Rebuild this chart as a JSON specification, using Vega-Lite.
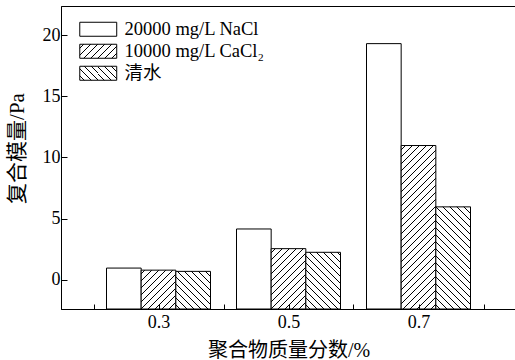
{
  "$schema": "https://vega.github.io/schema/vega-lite/v6.json",
  "width": 455,
  "height": 303,
  "autosize": {"type": "none"},
  "padding": {"left": 61, "top": 6, "right": 0, "bottom": 51},
  "background": "white",
  "params": [
    {"name": "hs", "value": [
      {"offset":0.015625,"color":"#fff"},{"offset":0.015625,"color":"#000"},{"offset":0.020089,"color":"#000"},{"offset":0.020089,"color":"#fff"},
      {"offset":0.046875,"color":"#fff"},{"offset":0.046875,"color":"#000"},{"offset":0.051339,"color":"#000"},{"offset":0.051339,"color":"#fff"},
      {"offset":0.078125,"color":"#fff"},{"offset":0.078125,"color":"#000"},{"offset":0.082589,"color":"#000"},{"offset":0.082589,"color":"#fff"},
      {"offset":0.109375,"color":"#fff"},{"offset":0.109375,"color":"#000"},{"offset":0.113839,"color":"#000"},{"offset":0.113839,"color":"#fff"},
      {"offset":0.140625,"color":"#fff"},{"offset":0.140625,"color":"#000"},{"offset":0.145089,"color":"#000"},{"offset":0.145089,"color":"#fff"},
      {"offset":0.171875,"color":"#fff"},{"offset":0.171875,"color":"#000"},{"offset":0.176339,"color":"#000"},{"offset":0.176339,"color":"#fff"},
      {"offset":0.203125,"color":"#fff"},{"offset":0.203125,"color":"#000"},{"offset":0.207589,"color":"#000"},{"offset":0.207589,"color":"#fff"},
      {"offset":0.234375,"color":"#fff"},{"offset":0.234375,"color":"#000"},{"offset":0.238839,"color":"#000"},{"offset":0.238839,"color":"#fff"},
      {"offset":0.265625,"color":"#fff"},{"offset":0.265625,"color":"#000"},{"offset":0.270089,"color":"#000"},{"offset":0.270089,"color":"#fff"},
      {"offset":0.296875,"color":"#fff"},{"offset":0.296875,"color":"#000"},{"offset":0.301339,"color":"#000"},{"offset":0.301339,"color":"#fff"},
      {"offset":0.328125,"color":"#fff"},{"offset":0.328125,"color":"#000"},{"offset":0.332589,"color":"#000"},{"offset":0.332589,"color":"#fff"},
      {"offset":0.359375,"color":"#fff"},{"offset":0.359375,"color":"#000"},{"offset":0.363839,"color":"#000"},{"offset":0.363839,"color":"#fff"},
      {"offset":0.390625,"color":"#fff"},{"offset":0.390625,"color":"#000"},{"offset":0.395089,"color":"#000"},{"offset":0.395089,"color":"#fff"},
      {"offset":0.421875,"color":"#fff"},{"offset":0.421875,"color":"#000"},{"offset":0.426339,"color":"#000"},{"offset":0.426339,"color":"#fff"},
      {"offset":0.453125,"color":"#fff"},{"offset":0.453125,"color":"#000"},{"offset":0.457589,"color":"#000"},{"offset":0.457589,"color":"#fff"},
      {"offset":0.484375,"color":"#fff"},{"offset":0.484375,"color":"#000"},{"offset":0.488839,"color":"#000"},{"offset":0.488839,"color":"#fff"},
      {"offset":0.515625,"color":"#fff"},{"offset":0.515625,"color":"#000"},{"offset":0.520089,"color":"#000"},{"offset":0.520089,"color":"#fff"},
      {"offset":0.546875,"color":"#fff"},{"offset":0.546875,"color":"#000"},{"offset":0.551339,"color":"#000"},{"offset":0.551339,"color":"#fff"},
      {"offset":0.578125,"color":"#fff"},{"offset":0.578125,"color":"#000"},{"offset":0.582589,"color":"#000"},{"offset":0.582589,"color":"#fff"},
      {"offset":0.609375,"color":"#fff"},{"offset":0.609375,"color":"#000"},{"offset":0.613839,"color":"#000"},{"offset":0.613839,"color":"#fff"},
      {"offset":0.640625,"color":"#fff"},{"offset":0.640625,"color":"#000"},{"offset":0.645089,"color":"#000"},{"offset":0.645089,"color":"#fff"},
      {"offset":0.671875,"color":"#fff"},{"offset":0.671875,"color":"#000"},{"offset":0.676339,"color":"#000"},{"offset":0.676339,"color":"#fff"},
      {"offset":0.703125,"color":"#fff"},{"offset":0.703125,"color":"#000"},{"offset":0.707589,"color":"#000"},{"offset":0.707589,"color":"#fff"},
      {"offset":0.734375,"color":"#fff"},{"offset":0.734375,"color":"#000"},{"offset":0.738839,"color":"#000"},{"offset":0.738839,"color":"#fff"},
      {"offset":0.765625,"color":"#fff"},{"offset":0.765625,"color":"#000"},{"offset":0.770089,"color":"#000"},{"offset":0.770089,"color":"#fff"},
      {"offset":0.796875,"color":"#fff"},{"offset":0.796875,"color":"#000"},{"offset":0.801339,"color":"#000"},{"offset":0.801339,"color":"#fff"},
      {"offset":0.828125,"color":"#fff"},{"offset":0.828125,"color":"#000"},{"offset":0.832589,"color":"#000"},{"offset":0.832589,"color":"#fff"},
      {"offset":0.859375,"color":"#fff"},{"offset":0.859375,"color":"#000"},{"offset":0.863839,"color":"#000"},{"offset":0.863839,"color":"#fff"},
      {"offset":0.890625,"color":"#fff"},{"offset":0.890625,"color":"#000"},{"offset":0.895089,"color":"#000"},{"offset":0.895089,"color":"#fff"},
      {"offset":0.921875,"color":"#fff"},{"offset":0.921875,"color":"#000"},{"offset":0.926339,"color":"#000"},{"offset":0.926339,"color":"#fff"},
      {"offset":0.953125,"color":"#fff"},{"offset":0.953125,"color":"#000"},{"offset":0.957589,"color":"#000"},{"offset":0.957589,"color":"#fff"},
      {"offset":0.984375,"color":"#fff"},{"offset":0.984375,"color":"#000"},{"offset":0.988839,"color":"#000"},{"offset":0.988839,"color":"#fff"}
    ]}
  ],
  "data": {"values": [
    {"conc": 0.3, "series": "20000 mg/L NaCl", "val": 0.95},
    {"conc": 0.3, "series": "10000 mg/L CaCl₂", "val": 0.78},
    {"conc": 0.3, "series": "清水", "val": 0.68},
    {"conc": 0.5, "series": "20000 mg/L NaCl", "val": 4.15},
    {"conc": 0.5, "series": "10000 mg/L CaCl₂", "val": 2.54},
    {"conc": 0.5, "series": "清水", "val": 2.24},
    {"conc": 0.7, "series": "20000 mg/L NaCl", "val": 19.32},
    {"conc": 0.7, "series": "10000 mg/L CaCl₂", "val": 10.98},
    {"conc": 0.7, "series": "清水", "val": 5.96}
  ]},
  "layer": [
    {
      "mark": {
        "type": "bar",
        "strokeWidth": 1,
        "fill": {"expr": "(datum.series || datum.value) == '20000 mg/L NaCl' ? 'white' : {gradient: 'linear', x1: 0, y1: ((datum.series || datum.value) == '清水' ? 1 : 0), x2: (isValid(datum.val) ? 7765.4 / (1201.8 + pow((datum.val + 2.4) * 12.2177, 2)) : 5.2958), y2: ((datum.series || datum.value) == '清水' ? 1 : 0) + ((datum.series || datum.value) == '清水' ? -1 : 1) * (isValid(datum.val) ? 2736.8 * (datum.val + 2.4) / (1201.8 + pow((datum.val + 2.4) * 12.2177, 2)) : 2.0038), stops: hs}"}
      },
      "encoding": {
        "x": {"field": "conc", "type": "ordinal", "scale": {"paddingInner": 0.2, "paddingOuter": 0.35}, "axis": null},
        "xOffset": {"field": "series", "type": "nominal", "sort": ["20000 mg/L NaCl", "10000 mg/L CaCl₂", "清水"], "scale": {"paddingInner": 0, "paddingOuter": 0}},
        "y": {"field": "val", "type": "quantitative", "scale": {"domain": [-2.4, 22.4], "nice": false, "zero": false},
          "axis": {"values": [0, 5, 10, 15, 20], "tickSize": -6, "labelPadding": 7, "labelFontSize": 18, "labelFont": "Liberation Serif",
            "title": "复合模量/Pa", "titleFontSize": 21, "titleFont": "Liberation Serif, Noto Sans CJK SC", "titleFontWeight": "normal",
            "titleX": -34, "titleY": 142}},
        "y2": {"datum": -2.4},
        "stroke": {"field": "series", "type": "nominal", "sort": ["20000 mg/L NaCl", "10000 mg/L CaCl₂", "清水"],
          "scale": {"range": ["black", "black", "black"]},
          "legend": {
            "title": null, "orient": "none", "legendX": 28, "legendY": 14,
            "symbolType": "M-2.64,-1H2.64V1H-2.64Z", "symbolSize": 196, "symbolStrokeWidth": 1, "symbolStrokeColor": "black",
            "labelFont": "Liberation Serif, Noto Sans CJK SC", "labelFontSize": 18.5, "labelColor": "black", "labelOffset": 17,
            "rowPadding": 3
          }
        }
      }
    },
    {
      "mark": {"type": "point", "opacity": 0},
      "encoding": {
        "x": {"field": "conc", "type": "quantitative", "scale": {"domain": [0.15, 0.85], "nice": false, "zero": false},
          "axis": {"values": [0.2, 0.3, 0.4, 0.5, 0.6, 0.7, 0.8], "format": ".1f", "tickSize": -5, "labelPadding": 9,
            "labelExpr": "datum.value == 0.3 || datum.value == 0.5 || datum.value == 0.7 ? datum.label : ''",
            "labelFontSize": 18, "labelFont": "Liberation Serif", "zindex": 1,
            "title": "聚合物质量分数/%", "titleFontSize": 20, "titleFont": "Liberation Serif, Noto Sans CJK SC", "titleFontWeight": "normal", "titlePadding": 9}}
      }
    }
  ],
  "resolve": {"scale": {"x": "independent"}, "axis": {"x": "independent"}},
  "config": {
    "view": {"stroke": "black", "strokeWidth": 1},
    "axis": {"domainColor": "black", "tickColor": "black", "labelColor": "black", "titleColor": "black", "grid": false, "domainWidth": 1, "tickWidth": 1}
  }
}
